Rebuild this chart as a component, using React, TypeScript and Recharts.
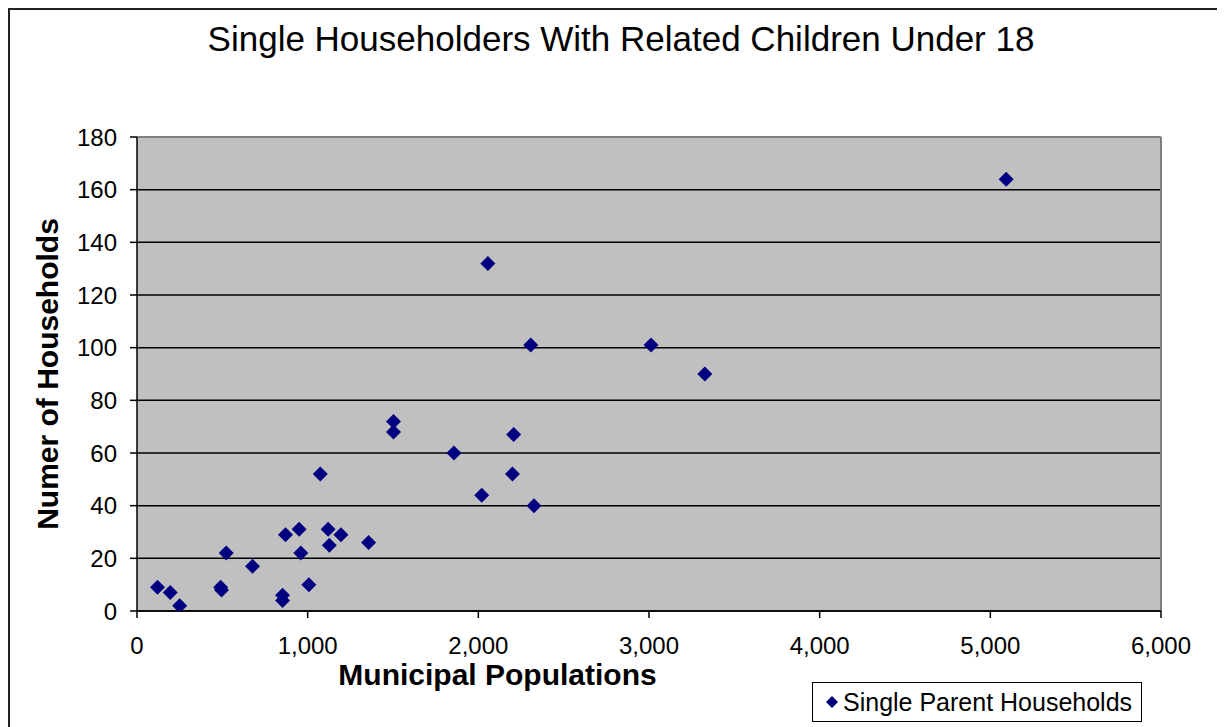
import {
  CartesianGrid,
  Legend,
  ReferenceLine,
  Scatter,
  ScatterChart,
  XAxis,
  YAxis,
} from "recharts";

// municipal population (x) and single parent households (y)
const populations = [
  120, 195, 250, 490, 495, 523, 677, 853, 853, 870, 950, 960, 1007, 1074,
  1120, 1127, 1195, 1357, 1503, 1503, 1857, 2020, 2056, 2200, 2207, 2307,
  2326, 3012, 3327, 5093,
];
const households = [
  9, 7, 2, 9, 8, 22, 17, 6, 4, 29, 31, 22, 10, 52, 31, 25, 29, 26, 72, 68, 60,
  44, 132, 52, 67, 101, 40, 101, 90, 164,
];

const xTicks = [0, 1000, 2000, 3000, 4000, 5000, 6000];
const yTicks = [0, 20, 40, 60, 80, 100, 120, 140, 160, 180];

const seriesName = "Single Parent Households";
const title = "Single Householders With Related Children Under 18";
const xLabel = "Municipal Populations";
const yLabel = "Numer of Households";

const FONT = "'Liberation Sans', Arial, sans-serif";
const NAVY = "#000080";

const data = populations.map((p, i) => ({ pop: p, hh: households[i] }));

function Diamond(props: any) {
  const { cx, cy } = props;
  const r = 7.5;
  return (
    <path
      d={`M${cx},${cy - r}L${cx + r},${cy}L${cx},${cy + r}L${cx - r},${cy}Z`}
      fill={NAVY}
    />
  );
}

function LegendBox() {
  return (
    <div
      style={{
        border: "1px solid #000",
        background: "#fff",
        width: 328,
        height: 38,
        display: "flex",
        alignItems: "center",
        fontFamily: FONT,
        fontSize: 25,
        color: "#000",
      }}
    >
      <svg width={30} height={20} style={{ flex: "none" }}>
        <path d="M19,4L25,10L19,16L13,10Z" fill={NAVY} />
      </svg>
      <span>{seriesName}</span>
    </div>
  );
}

export default function App() {
  return (
    <div
      style={{
        width: 1217,
        height: 719,
        borderTop: "2px solid #222",
        borderLeft: "2px solid #222",
        overflow: "hidden",
        background: "#fff",
      }}
    >
      <ScatterChart
        width={1215}
        height={717}
        margin={{ top: 127, right: 64, left: 27, bottom: 0 }}
      >
        <text
          x={611}
          y={41}
          textAnchor="middle"
          fontFamily={FONT}
          fontSize={35}
          fill="#000"
        >
          {title}
        </text>
        <text
          x={487.5}
          y={675}
          textAnchor="middle"
          fontFamily={FONT}
          fontSize={30}
          fontWeight="bold"
          fill="#000"
        >
          {xLabel}
        </text>
        <text
          x={48}
          y={364}
          textAnchor="middle"
          transform="rotate(-90 48 364)"
          fontFamily={FONT}
          fontSize={30}
          fontWeight="bold"
          fill="#000"
        >
          {yLabel}
        </text>
        <CartesianGrid
          vertical={false}
          fill="#C0C0C0"
          fillOpacity={1}
          stroke="#000"
          strokeWidth={1.5}
        />
        <XAxis
          type="number"
          dataKey="pop"
          domain={[0, 6000]}
          ticks={xTicks}
          interval={0}
          allowDataOverflow
          height={116}
          tickSize={7}
          tickMargin={19}
          stroke="#000"
          strokeWidth={1.5}
          tick={{ fontSize: 24, fill: "#000", fontFamily: FONT }}
          tickFormatter={(v: number) => v.toLocaleString("en-US")}
        />
        <YAxis
          type="number"
          dataKey="hh"
          domain={[0, 180]}
          ticks={yTicks}
          interval={0}
          allowDataOverflow
          width={100}
          tickSize={7}
          tickMargin={13}
          stroke="#000"
          strokeWidth={1.5}
          tick={{ fontSize: 24, fill: "#000", fontFamily: FONT }}
        />
        <ReferenceLine y={180} stroke="#808080" strokeWidth={2} />
        <ReferenceLine x={6000} stroke="#808080" strokeWidth={2} />
        <Legend
          layout="horizontal"
          verticalAlign="middle"
          align="center"
          content={() => <LegendBox />}
          wrapperStyle={{ left: 802, top: 672, width: 330, height: 40 }}
        />
        <Scatter
          name={seriesName}
          data={data}
          shape={Diamond}
          isAnimationActive={false}
        />
      </ScatterChart>
    </div>
  );
}
